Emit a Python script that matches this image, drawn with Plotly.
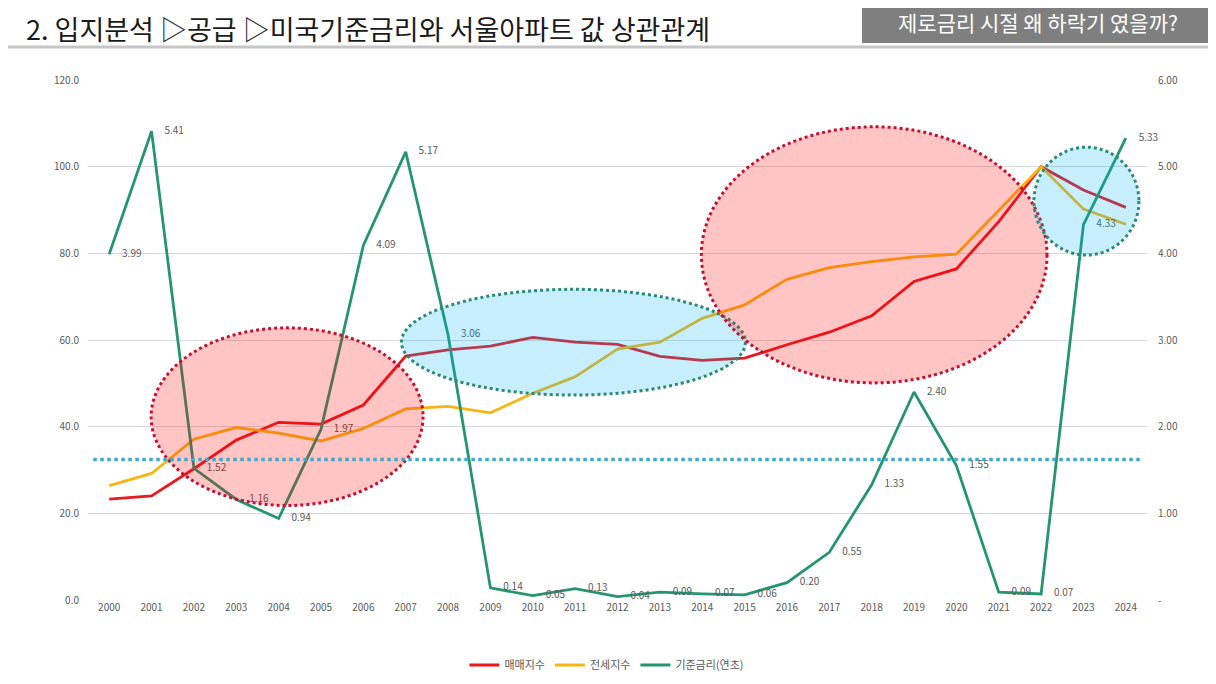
import plotly.graph_objects as go

# 연도별 지수 / 금리
years = list(range(2000, 2025))
maemae = [23.3, 24.0, 30.3, 36.9, 41.0, 40.6, 45.0, 56.3, 57.7, 58.6, 60.6, 59.5, 59.0,
          56.2, 55.3, 55.8, 58.9, 61.8, 65.6, 73.5, 76.4, 87.3, 100.0, 94.6, 90.6]
jeonse = [26.4, 29.2, 37.1, 39.8, 38.5, 36.7, 39.6, 44.1, 44.7, 43.2, 47.7, 51.5, 57.9,
          59.5, 65.0, 68.1, 74.0, 76.7, 78.1, 79.2, 79.8, 90.0, 100.0, 90.2, 86.7]
rate = [3.99, 5.41, 1.52, 1.16, 0.94, 1.97, 4.09, 5.17, 3.06, 0.14, 0.05, 0.13, 0.04,
        0.09, 0.07, 0.06, 0.20, 0.55, 1.33, 2.40, 1.55, 0.09, 0.07, 4.33, 5.33]

left_ticks = [0, 20, 40, 60, 80, 100, 120]
right_ticks = [0, 1, 2, 3, 4, 5, 6]
right_text = ["-", "1.00", "2.00", "3.00", "4.00", "5.00", "6.00"]

gray = "#595959"

fig = go.Figure()
fig.add_trace(go.Scatter(x=years, y=maemae, name="매매지수", mode="lines",
                         line=dict(color="#e8191f", width=2.8)))
fig.add_trace(go.Scatter(x=years, y=jeonse, name="전세지수", mode="lines",
                         line=dict(color="#f7b512", width=2.8)))
fig.add_trace(go.Scatter(x=years, y=rate, name="기준금리(연초)", mode="lines", yaxis="y2",
                         line=dict(color="#25956f", width=2.8)))
# 금리 라벨
fig.add_trace(go.Scatter(x=years, y=rate, mode="markers+text", yaxis="y2", showlegend=False,
                         texttemplate="%{y:.2f}", textposition="middle right",
                         textfont=dict(size=10, color=gray), cliponaxis=False,
                         marker=dict(size=19, color="rgba(0,0,0,0)"), hoverinfo="skip"))

# 강조 타원
red_fill = "rgba(255,0,0,0.23)"
blue_fill = "rgba(0,176,240,0.22)"
fig.add_shape(type="circle", xref="x", yref="y", x0=2000.99, x1=2007.41, y0=21.8, y1=62.8,
              fillcolor=red_fill, line=dict(color="#c8102e", width=3, dash="dot"))
fig.add_shape(type="circle", xref="x", yref="y", x0=2006.9, x1=2015.02, y0=47.3, y1=71.7,
              fillcolor=blue_fill, line=dict(color="#2a8a78", width=3, dash="dot"))
fig.add_shape(type="circle", xref="x", yref="y", x0=2013.98, x1=2022.14, y0=50.1, y1=109.2,
              fillcolor=red_fill, line=dict(color="#c8102e", width=3, dash="dot"))
fig.add_shape(type="circle", xref="x", yref="y", x0=2021.83, x1=2024.31, y0=79.6, y1=104.5,
              fillcolor=blue_fill, line=dict(color="#2a8a78", width=3, dash="dot"))
# 점선 기준선
fig.add_shape(type="line", xref="paper", yref="y2", x0=0.005, x1=0.995, y0=1.62, y1=1.62,
              line=dict(color="#3fa9c9", width=3.5, dash="dot"))

# 상단 헤더
fig.add_shape(type="line", xref="paper", yref="paper", x0=-0.08, x1=1.08, y0=1.0635, y1=1.0635,
              line=dict(color="#c6c6c6", width=3))
fig.add_shape(type="rect", xref="paper", yref="paper", x0=0.7309, x1=1.08, y0=1.0712, y1=1.14,
              fillcolor="#7f7f7f", line=dict(width=0))
fig.add_annotation(text="제로금리 시절 왜 하락기 였을까?", xref="paper", yref="paper",
                   x=0.897, y=1.1115, xanchor="center", yanchor="middle", showarrow=False,
                   font=dict(size=21, color="white"))

fig.update_layout(
    width=1216, height=684,
    margin=dict(l=80, r=77, t=72, b=92),
    paper_bgcolor="white", plot_bgcolor="white",
    font=dict(family="Noto Sans CJK KR, Noto Sans", color=gray),
    title=dict(text="2. 입지분석 ▷공급 ▷미국기준금리와 서울아파트 값 상관관계",
               xref="container", yref="container", x=18 / 1216, xanchor="left",
               y=1 - 23 / 684, yanchor="middle",
               font=dict(size=27, color="#1a1a1a")),
    xaxis=dict(range=[1999.5, 2024.5], tickvals=years, showgrid=False, zeroline=False,
               showline=False, ticks="", tickfont=dict(size=10, color=gray)),
    yaxis=dict(range=[0, 120], tickvals=left_ticks, tickformat=".1f", gridcolor="#d9d9d9",
               zeroline=False, showline=False, ticks="", ticklabelstandoff=8,
               tickfont=dict(size=10, color=gray)),
    yaxis2=dict(range=[0, 6], overlaying="y", side="right", tickvals=right_ticks,
                ticktext=right_text, showgrid=False, zeroline=False, showline=False,
                ticks="", ticklabelstandoff=10, tickfont=dict(size=10, color=gray)),
    legend=dict(orientation="h", x=0.49, xanchor="center", y=-0.125, yanchor="middle",
                font=dict(size=11, color=gray)),
    showlegend=True,
)

fig.write_html("out.html")
